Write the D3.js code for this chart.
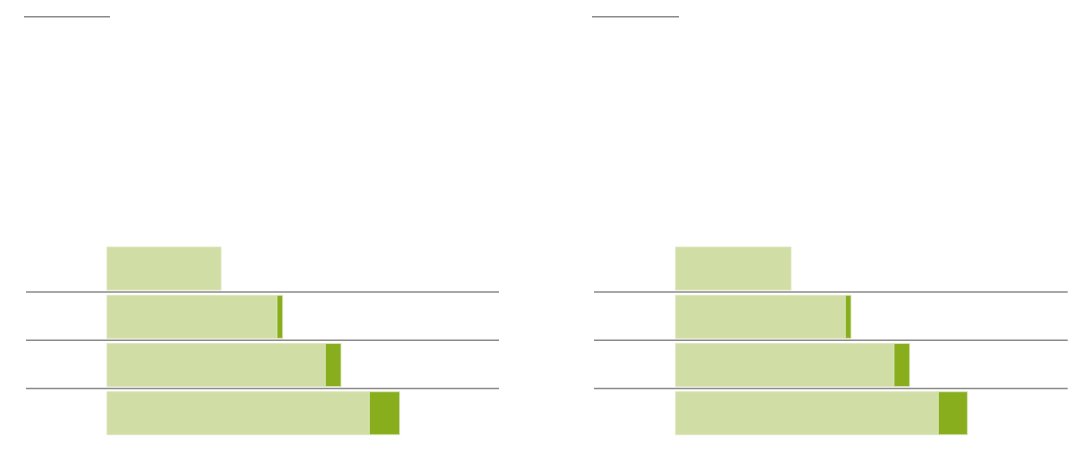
<!DOCTYPE html>
<html>
<meta charset="utf-8">
<style>
body { margin: 0; background: #fff; }
.sep line, .topline { stroke: #8a8a8a; stroke-width: 1.5px; }
.bars rect { stroke: #dbe6bb; stroke-width: 0.8px; }
</style>
<body>
<svg width="1092" height="452"></svg>
<script src="https://d3js.org/d3.v7.min.js"></script>
<script>

// rows, top to bottom
var categories = ["r1", "r2", "r3", "r4"];

// left panel values
var leftBase  = [114, 170, 218.3, 262.3];
var leftExtra = [0, 5.7, 15.7, 30.4];

// right panel values
var rightBase  = [115.3, 169.6, 218.3, 262.6];
var rightExtra = [0, 5.7, 15.7, 29];

var panels = [
  {x0: 107, x1: 498, sepFrom: 26, topFrom: 24, topTo: 110, base: leftBase, extra: leftExtra},
  {x0: 675.7, x1: 1066.7, sepFrom: 594, topFrom: 592, topTo: 679, base: rightBase, extra: rightExtra}
];

var svg = d3.select("svg");

var y = d3.scaleBand()
    .domain(categories)
    .range([244.4, 437.4])
    .paddingInner(0.109)
    .paddingOuter(0.0545);

panels.forEach(function(p) {
  var x = d3.scaleLinear().domain([0, 391]).range([p.x0, p.x1]);
  var g = svg.append("g");

  g.append("line")
      .attr("class", "topline")
      .attr("x1", p.topFrom).attr("x2", p.topTo)
      .attr("y1", 16.7).attr("y2", 16.7);

  var rows = categories.map(function(c, i) {
    return {cat: c, base: p.base[i], extra: p.extra[i]};
  });

  var bars = g.append("g").attr("class", "bars");

  bars.selectAll("rect.base")
    .data(rows)
    .enter().append("rect")
      .attr("class", "base")
      .attr("x", x(0))
      .attr("y", function(d) { return y(d.cat); })
      .attr("width", function(d) { return x(d.base) - x(0); })
      .attr("height", y.bandwidth())
      .attr("fill", "#d0dea6");

  bars.selectAll("rect.extra")
    .data(rows.filter(function(d) { return d.extra > 0; }))
    .enter().append("rect")
      .attr("class", "extra")
      .attr("x", function(d) { return x(d.base); })
      .attr("y", function(d) { return y(d.cat); })
      .attr("width", function(d) { return x(d.base + d.extra) - x(d.base); })
      .attr("height", y.bandwidth())
      .attr("fill", "#88ae1e");

  // separators just below each of the upper three bars
  g.append("g")
      .attr("class", "sep")
    .selectAll("line")
    .data(categories.slice(0, 3))
    .enter().append("line")
      .attr("x1", p.sepFrom).attr("x2", p.x1 + 1)
      .attr("y1", function(c) { return y(c) + y.bandwidth() + 2.1; })
      .attr("y2", function(c) { return y(c) + y.bandwidth() + 2.1; });
});

</script>
</body>
</html>
